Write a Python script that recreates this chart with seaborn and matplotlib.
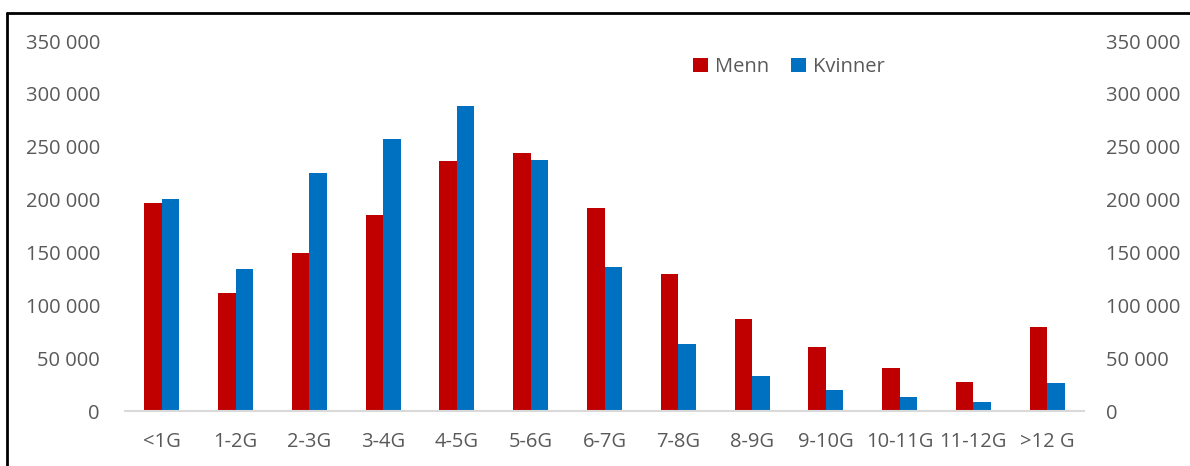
import matplotlib
matplotlib.use("Agg")
import matplotlib.pyplot as plt
from matplotlib.ticker import FuncFormatter, MultipleLocator
from matplotlib.lines import Line2D
from matplotlib.patches import Patch
import seaborn as sns
import pandas as pd

# Income brackets (in multiples of G) and counts per gender
categories = ["<1G", "1-2G", "2-3G", "3-4G", "4-5G", "5-6G", "6-7G",
              "7-8G", "8-9G", "9-10G", "10-11G", "11-12G", ">12 G"]
menn = [197000, 112000, 149500, 185000, 236500, 244500, 192500,
        129500, 87000, 60500, 40500, 27700, 79200]
kvinner = [200800, 134800, 225000, 257000, 288500, 237200, 136000,
           63300, 32900, 19500, 13200, 8800, 26500]
series = ["Menn", "Kvinner"]
colors = ["#C00000", "#0070C0"]

df = pd.DataFrame({
    "kategori": categories * 2,
    "antall": menn + kvinner,
    "kjonn": [series[0]] * len(categories) + [series[1]] * len(categories),
})

sns.set_theme(style="white")
plt.rcParams["font.family"] = ["Open Sans", "DejaVu Sans"]
text_color = "#595959"

fig = plt.figure(figsize=(11.9, 4.66), dpi=100)
ax = fig.add_axes([0.105, 0.118, 0.806, 0.794])

sns.barplot(data=df, x="kategori", y="antall", hue="kjonn", order=categories,
            hue_order=series, palette=colors, width=0.475, saturation=1,
            edgecolor="none", linewidth=0, ax=ax, legend=False)

ax.set_xlim(-0.5, len(categories) - 0.5)
ax.set_ylim(0, 350000)
ax.yaxis.set_major_locator(MultipleLocator(50000))
fmt = FuncFormatter(lambda v, _: f"{int(v):,}".replace(",", " "))
ax.yaxis.set_major_formatter(fmt)
ax.set_xlabel("")
ax.set_ylabel("")
for s in ["top", "right", "left"]:
    ax.spines[s].set_visible(False)
ax.spines["bottom"].set_color("#D9D9D9")
ax.spines["bottom"].set_linewidth(1.5)
ax.tick_params(axis="both", length=0, labelsize=14.5, labelcolor=text_color)
ax.tick_params(axis="y", pad=18)
ax.tick_params(axis="x", pad=15)

ax2 = ax.twinx()
ax2.set_ylim(ax.get_ylim())
ax2.yaxis.set_major_locator(MultipleLocator(50000))
ax2.yaxis.set_major_formatter(fmt)
for s in ax2.spines.values():
    s.set_visible(False)
ax2.tick_params(axis="y", length=0, labelsize=14.5, labelcolor=text_color, pad=16)
ax2.grid(False)

handles = [Patch(facecolor=c, edgecolor="none", label=l) for c, l in zip(colors, series)]
ax.legend(handles=handles, loc="center", bbox_to_anchor=(0.692, 0.93), ncol=2,
          frameon=False, fontsize=14.5, labelcolor=text_color,
          handlelength=0.75, handleheight=0.75, handletextpad=0.35,
          columnspacing=1.1)

# Black frame along the left and top edges
fig.add_artist(Line2D([7 / 1190, 7 / 1190], [0, 1 - 12.5 / 466],
                      transform=fig.transFigure, color="black", lw=2))
fig.add_artist(Line2D([7 / 1190, 1], [1 - 12.5 / 466, 1 - 12.5 / 466],
                      transform=fig.transFigure, color="black", lw=2))

fig.savefig("out.png", dpi=100, facecolor="white")
